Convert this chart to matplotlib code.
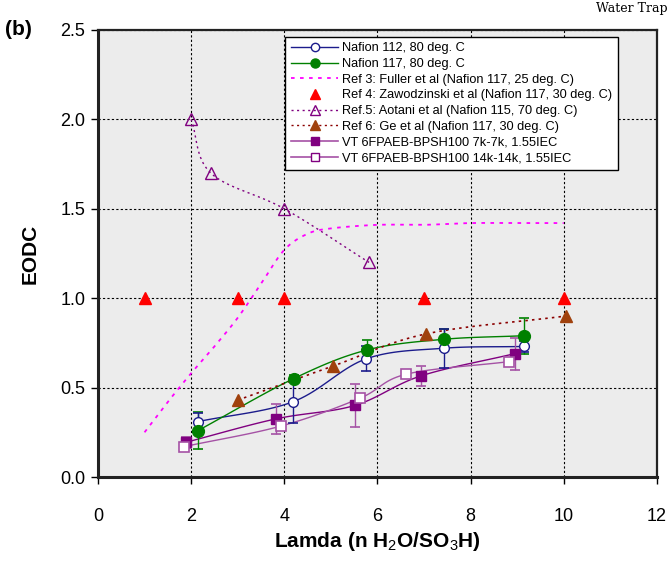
import numpy as np
import matplotlib
matplotlib.use('Agg')
import matplotlib.pyplot as plt
from matplotlib import font_manager

# font: narrow Arial look if available
names = {f.name for f in font_manager.fontManager.ttflist}
base_font = 'Liberation Sans Narrow' if 'Liberation Sans Narrow' in names else 'Liberation Sans'
plt.rcParams['font.family'] = [base_font, 'DejaVu Sans']
plt.rcParams['mathtext.fontset'] = 'custom'
plt.rcParams['mathtext.rm'] = base_font
plt.rcParams['mathtext.bf'] = base_font + ':bold'

## data
n112_x = [2.15, 4.18, 5.75, 7.42, 9.14]
n112_y = [0.31, 0.42, 0.66, 0.72, 0.73]
n112_err = [0.05, 0.12, 0.07, 0.11, 0.03]

n117_x = [2.15, 4.2, 5.77, 7.42, 9.14]
n117_y = [0.26, 0.55, 0.71, 0.77, 0.79]
n117_err = [0.105, 0.02, 0.055, 0.06, 0.1]

fuller_x = [1, 1.5, 2, 2.5, 3, 3.5, 4, 4.5, 5, 6, 7, 8, 9, 10]
fuller_y = [0.25, 0.42, 0.58, 0.73, 0.89, 1.08, 1.27, 1.36, 1.39, 1.41, 1.41, 1.42, 1.42, 1.42]

zaw_x = [1, 3, 4, 7, 10]
zaw_y = [1.0, 1.0, 1.0, 1.0, 1.0]

aotani_x = [2.0, 2.42, 4.0, 5.82]
aotani_y = [2.0, 1.70, 1.50, 1.20]

ge_x = [3.0, 5.04, 7.04, 10.04]
ge_y = [0.43, 0.62, 0.80, 0.90]

vt7_x = [1.9, 3.82, 5.51, 6.93, 8.95]
vt7_y = [0.195, 0.325, 0.40, 0.565, 0.69]
vt7_err = [0.03, 0.085, 0.12, 0.055, 0.09]

vt14_x = [1.85, 3.93, 5.62, 6.62, 8.82]
vt14_y = [0.17, 0.285, 0.44, 0.575, 0.645]

x_ticks = [0, 2, 4, 6, 8, 10, 12]
y_ticks = [0.0, 0.5, 1.0, 1.5, 2.0, 2.5]


def smooth(x, y, n=20):
    """curva suave tipo Excel (Catmull-Rom) passando pelos pontos"""
    x = np.asarray(x, float)
    y = np.asarray(y, float)
    px = np.concatenate([[2*x[0]-x[1]], x, [2*x[-1]-x[-2]]])
    py = np.concatenate([[2*y[0]-y[1]], y, [2*y[-1]-y[-2]]])
    xs, ys = [], []
    t = np.linspace(0, 1, n)
    for i in range(1, len(px)-2):
        for p, out in ((px, xs), (py, ys)):
            p0, p1, p2, p3 = p[i-1], p[i], p[i+1], p[i+2]
            out.extend(0.5*((2*p1) + (-p0+p2)*t + (2*p0-5*p1+4*p2-p3)*t**2
                            + (-p0+3*p1-3*p2+p3)*t**3))
    return np.array(xs), np.array(ys)


fig = plt.figure(figsize=(6.71, 5.61), dpi=100)
ax = fig.add_axes([0.146, 0.1497, 0.833, 0.797])
ax.set_facecolor('#ececec')

navy = '#1c1c8c'
green = '#008000'
purple = '#800080'
lpurple = '#a552a5'

# linhas suaves
ax.plot(*smooth(n112_x, n112_y), color=navy, lw=1)
ax.plot(*smooth(n117_x, n117_y), color=green, lw=1)
ax.plot(*smooth(vt7_x, vt7_y), color=purple, lw=1)
ax.plot(*smooth(vt14_x, vt14_y), color=lpurple, lw=1)
ax.plot(*smooth(aotani_x, aotani_y), color=purple, lw=1, ls=(0, (1.5, 2.5)))
ax.plot(*smooth(ge_x, ge_y), color='#8b0000', lw=1.2, ls=(0, (1.5, 2.5)))
ax.plot(*smooth(fuller_x, fuller_y), color='#ff00ff', lw=1.3, ls=(0, (2, 3)))

# barras de erro
ax.errorbar(n117_x, n117_y, yerr=n117_err, fmt='none', ecolor=green, capsize=3.5, lw=1, capthick=1.2)
ax.errorbar(n112_x, n112_y, yerr=n112_err, fmt='none', ecolor=navy, capsize=3.5, lw=1, capthick=1.2)
ax.errorbar(vt7_x, vt7_y, yerr=vt7_err, fmt='none', ecolor=lpurple, capsize=3.5, lw=1, capthick=1.2)

# marcadores
ax.plot(n112_x, n112_y, 'o', mfc='white', mec=navy, ms=7, mew=1)
ax.plot(n117_x, n117_y, 'o', mfc=green, mec=green, ms=8.5)
ax.plot(zaw_x, zaw_y, '^', mfc='#ff0000', mec='#ff0000', ms=8)
ax.plot(aotani_x, aotani_y, '^', mfc='none', mec=purple, ms=8, mew=1)
ax.plot(ge_x, ge_y, '^', mfc='#a0410d', mec='#a0410d', ms=8)
ax.plot(vt7_x, vt7_y, 's', mfc=purple, mec=purple, ms=7)
ax.plot(vt14_x, vt14_y, 's', mfc='white', mec=lpurple, ms=7, mew=1.2)

# legenda
h = [
    ax.plot([], [], color=navy, lw=1, marker='o', mfc='white', mec=navy, ms=6)[0],
    ax.plot([], [], color=green, lw=1, marker='o', mfc=green, mec=green, ms=6.5)[0],
    ax.plot([], [], color='#ff00ff', lw=1.3, ls=(0, (2, 3)))[0],
    ax.plot([], [], ls='none', marker='^', mfc='#ff0000', mec='#ff0000', ms=7)[0],
    ax.plot([], [], color=purple, lw=1, ls=(0, (1.5, 2.5)), marker='^', mfc='none', mec=purple, ms=7)[0],
    ax.plot([], [], color='#8b0000', lw=1, ls=(0, (1.5, 2.5)), marker='^', mfc='#a0410d', mec='#a0410d', ms=7)[0],
    ax.plot([], [], color=lpurple, lw=1.2, marker='s', mfc=purple, mec=purple, ms=6)[0],
    ax.plot([], [], color=lpurple, lw=1.2, marker='s', mfc='white', mec=purple, ms=6)[0],
]
labels = ['Nafion 112, 80 deg. C', 'Nafion 117, 80 deg. C',
          'Ref 3: Fuller et al (Nafion 117, 25 deg. C)',
          'Ref 4: Zawodzinski et al (Nafion 117, 30 deg. C)',
          'Ref.5: Aotani et al (Nafion 115, 70 deg. C)',
          'Ref 6: Ge et al (Nafion 117, 30 deg. C)',
          'VT 6FPAEB-BPSH100 7k-7k, 1.55IEC',
          'VT 6FPAEB-BPSH100 14k-14k, 1.55IEC']
leg = ax.legend(h, labels, loc='upper left', bbox_to_anchor=(0.335, 0.985), fontsize=9.2,
                frameon=True, fancybox=False, edgecolor='black', framealpha=1,
                labelspacing=0.29, handlelength=3.7, handletextpad=0.3, borderpad=0.45,
                borderaxespad=0)
leg.get_frame().set_linewidth(1.0)

ax.set_xlim(0, 12)
ax.set_ylim(0, 2.5)
ax.set_xticks(x_ticks)
ax.set_yticks(y_ticks)
ax.set_yticklabels([f'{v:.1f}' for v in y_ticks])
ax.grid(True, color='black', ls=(0, (2, 2)), lw=0.8)
ax.set_axisbelow(True)
ax.tick_params(direction='out', length=5, width=1, labelsize=13, pad=4)
ax.tick_params(axis='x', pad=17)
for s in ax.spines.values():
    s.set_color('#222222')
    s.set_linewidth(1.6)
ax.spines['left'].set_linewidth(2.2)
ax.spines['bottom'].set_linewidth(2.2)

ax.set_xlabel('Lamda (n H$_2$O/SO$_3$H)', fontsize=15, fontweight='bold', labelpad=4)
ax.set_ylabel('EODC', fontsize=15, fontweight='bold', labelpad=15)
fig.text(0.008, 0.937, '(b)', fontsize=15, fontweight='bold')
fig.text(0.995, 0.985, 'Water Trap', fontsize=9, family='DejaVu Serif', ha='right', va='center')

fig.savefig('out.png', dpi=100)
